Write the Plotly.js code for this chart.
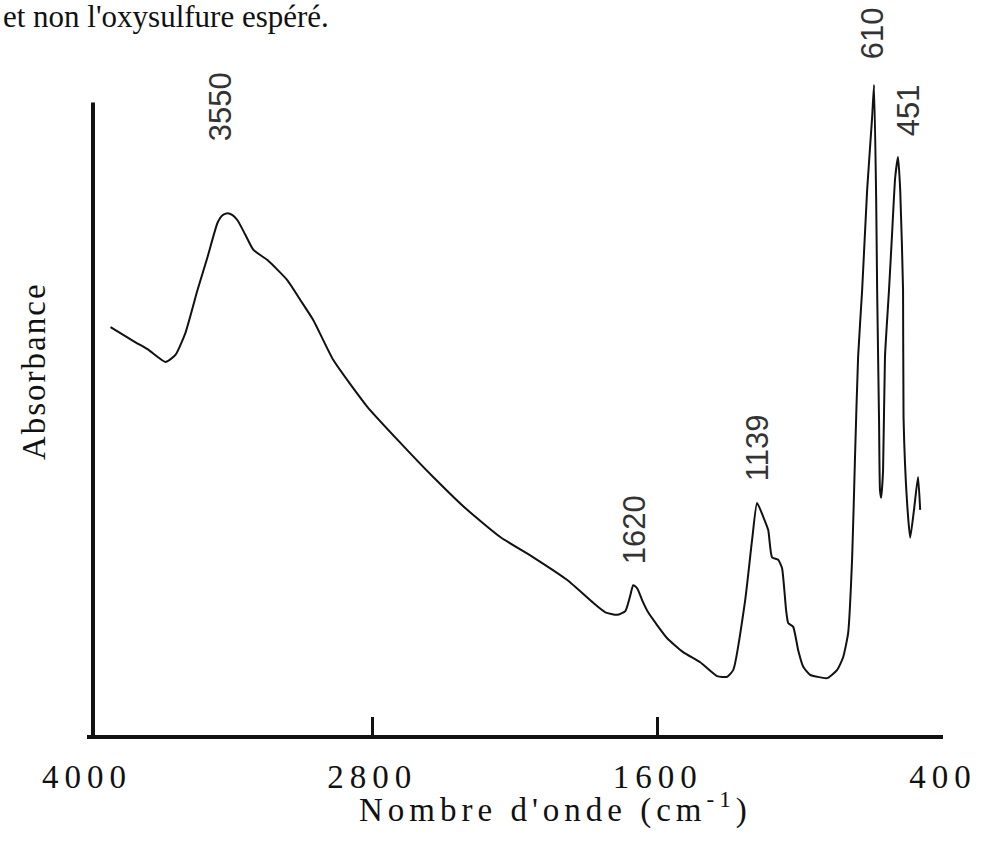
<!DOCTYPE html>
<html>
<head>
<meta charset="utf-8">
<script src="https://cdn.plot.ly/plotly-3.0.1.min.js"></script>
<style>
  html, body { margin: 0; padding: 0; background: #fff; }
  #chart { width: 985px; height: 847px; }
  .xtick text { letter-spacing: 6px; }
  g.annotation[data-index="1"] text { letter-spacing: 5px; }
  g.annotation[data-index="2"] text { letter-spacing: 2px; }
</style>
</head>
<body>
<div id="chart"></div>
<script>
// Wavenumber (cm-1) and absorbance (arbitrary units)
const wavenumber = [3901, 3796, 3741, 3670, 3628, 3586, 3535, 3493, 3451, 3430,
  3409, 3388, 3367, 3334, 3300, 3241, 3157, 3103, 3048, 2964,
  2821, 2682, 2544, 2401, 2262, 2123, 1980, 1871, 1820, 1770,
  1736, 1715, 1703, 1686, 1665, 1640, 1560, 1493, 1421, 1350,
  1308, 1282, 1232, 1203, 1182, 1156, 1135, 1119, 1093, 1077,
  1060, 1051, 1030, 1009, 988, 959, 929, 887, 845, 820,
  799, 782, 770, 757, 740, 719, 698, 690, 681, 677,
  669, 665, 660, 652, 644, 627, 614, 601, 589, 580,
  568, 566, 551, 538, 522, 505, 496];
const absorbance = [0.645, 0.621, 0.609, 0.590, 0.601, 0.636, 0.704, 0.756, 0.810, 0.822,
  0.825, 0.822, 0.814, 0.791, 0.767, 0.751, 0.719, 0.688, 0.656, 0.593,
  0.519, 0.462, 0.408, 0.356, 0.313, 0.281, 0.245, 0.209, 0.194, 0.190,
  0.196, 0.221, 0.237, 0.232, 0.213, 0.194, 0.153, 0.131, 0.115, 0.093,
  0.092, 0.103, 0.213, 0.308, 0.367, 0.345, 0.324, 0.281, 0.277, 0.264,
  0.198, 0.177, 0.171, 0.134, 0.108, 0.095, 0.092, 0.090, 0.103, 0.123,
  0.161, 0.281, 0.440, 0.598, 0.704, 0.862, 0.977, 1.028, 0.846, 0.704,
  0.498, 0.387, 0.375, 0.419, 0.598, 0.704, 0.794, 0.882, 0.914, 0.862,
  0.704, 0.503, 0.367, 0.312, 0.356, 0.408, 0.356];

// Tick labels of the wavenumber axis
const tickValues = [4000, 2800, 1600, 400];
const tickLabels = ['4000', '2800', '1600', '400'];

// Peak labels and the wavenumber where each is written
const peakLabels = ['3550', '1620', '1139', '610', '451'];
const peakLabelWavenumber = [3439, 1694, 1182, 698, 547];
const peakLabelHeight = [0.946, 0.309, 0.432, 1.057, 0.941];

const caption = "et non l'oxysulfure espéré.";
const xTitle = "Nombre d'onde (cm<sup>-1</sup>)";
const yTitle = "Absorbance";

const serif = '"Liberation Serif", "Times New Roman", serif';
const sans = '"Liberation Sans", Arial, sans-serif';

const annotations = [
  { text: caption, xref: 'paper', yref: 'paper', x: -0.1005, y: 1.082,
    xanchor: 'left', yanchor: 'middle', showarrow: false,
    font: { family: serif, size: 31, color: '#111' } },
  { text: xTitle, xref: 'paper', yref: 'paper', x: 0.547, y: -0.109,
    xanchor: 'center', yanchor: 'middle', showarrow: false,
    font: { family: serif, size: 33, color: '#111' } },
  { text: yTitle, xref: 'paper', yref: 'paper', x: -0.062, y: 0.548,
    xanchor: 'center', yanchor: 'middle', showarrow: false, textangle: -90,
    font: { family: serif, size: 33, color: '#111' } }
];
peakLabels.forEach((t, i) => {
  annotations.push({
    text: t, xref: 'x', yref: 'paper', x: peakLabelWavenumber[i], y: peakLabelHeight[i],
    xanchor: 'center', yanchor: 'middle', showarrow: false, textangle: -90,
    font: { family: sans, size: 31, color: '#333' }
  });
});

const data = [{
  type: 'scatter', mode: 'lines',
  x: wavenumber, y: absorbance,
  line: { color: '#111', width: 2, shape: 'spline', smoothing: 0.5 },
  hoverinfo: 'skip', showlegend: false
}];

const layout = {
  width: 985, height: 847,
  margin: { l: 87, r: 42, t: 71, b: 112 },
  paper_bgcolor: '#fff', plot_bgcolor: '#fff',
  showlegend: false,
  xaxis: {
    range: [4000, 400], showgrid: false, zeroline: false,
    showline: true, linecolor: '#111', linewidth: 4,
    ticks: 'inside', ticklen: 18, tickwidth: 3, tickcolor: '#111',
    tickvals: tickValues, ticktext: tickLabels,
    ticklabelstandoff: 9,
    tickfont: { family: serif, size: 33, color: '#111' }
  },
  yaxis: {
    range: [0, 1.05], showgrid: false, zeroline: false, showline: false,
    showticklabels: false, ticks: ''
  },
  shapes: [{
    type: 'line', xref: 'paper', yref: 'y', x0: 0.007, x1: 0.007, y0: 0, y1: 1.0,
    line: { color: '#111', width: 4 }
  }],
  annotations: annotations
};

Plotly.newPlot('chart', data, layout, { staticPlot: true, displayModeBar: false });
</script>
</body>
</html>
